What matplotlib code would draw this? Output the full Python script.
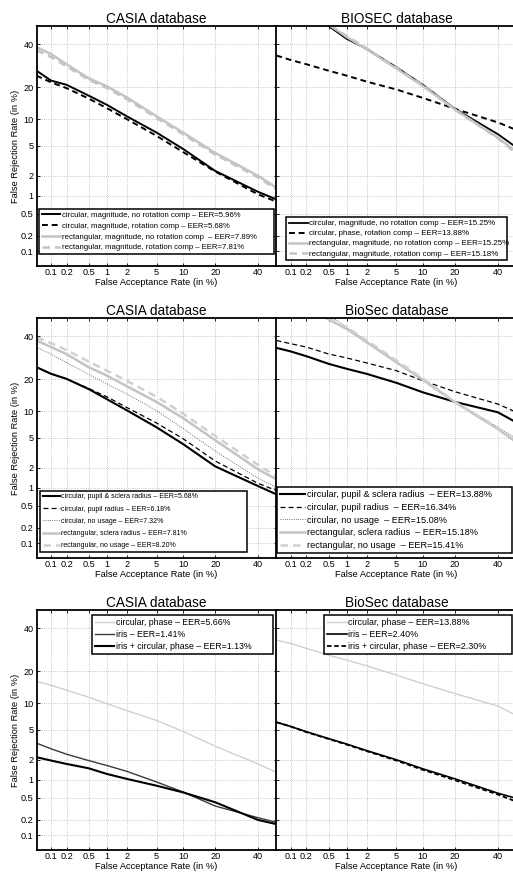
import math
import numpy as np
import matplotlib
matplotlib.use("Agg")
import matplotlib.pyplot as plt
from matplotlib.ticker import NullLocator

plt.rcParams['font.family'] = ['Liberation Sans', 'DejaVu Sans']

# FAR sample points (in %) used for most curves
far = [0.05, 0.1, 0.2, 0.5, 1, 2, 5, 10, 20, 40, 50]

# row 1 - CASIA, magnitude
casia_circ_norot = [27, 22.7, 21, 17, 14, 10.8, 7.2, 4.6, 2.35, 1.15, 0.87]
casia_circ_rot = [24.8, 22, 19.7, 16, 13, 10.1, 6.6, 4.2, 2.3, 1.05, 0.8]
casia_rect_norot = [38.6, 35, 30, 23.7, 20.4, 16.4, 10.8, 7.2, 4.1, 2.0, 1.33]
casia_rect_rot = [37, 33.5, 29, 23, 19.8, 15.8, 10.4, 6.9, 3.9, 1.9, 1.25]

# row 1 - BIOSEC
bio_far_circ_norot = [0.5, 1, 2, 5, 10, 20, 40, 50]
bio_circ_norot = [50, 43, 37.7, 28.6, 21, 12.8, 6.9, 4.8]
bio_circ_phase = [34.3, 32, 30, 27, 24.8, 22.3, 19.2, 16.2, 12.8, 9.3, 7.7]
bio_far_rect_norot = [0.55, 1, 2, 5, 10, 20, 40, 50]
bio_rect_norot = [50, 44, 37.5, 28, 20.5, 12.6, 6.3, 4.2]
bio_far_rect_rot = [0.55, 1, 2, 5, 10, 20, 40, 50]
bio_rect_rot = [50, 44.5, 38, 28.3, 20.8, 12.5, 6.2, 4.0]

# row 2 - CASIA, radius usage
casia_pupil_sclera = [25, 22.2, 20.2, 16.5, 13.3, 10.3, 6.7, 4.2, 2.1, 1.06, 0.78]
casia_pupil = [25, 22.2, 20.2, 16.7, 14, 11, 7.5, 4.9, 2.5, 1.17, 0.9]
casia_circ_none = [34.5, 31, 27, 22, 18.3, 14.9, 10.2, 6.5, 3.4, 1.4, 1.0]
casia_rect_sclera = [37.9, 34.5, 31, 25, 21.5, 17.5, 12.5, 8.5, 4.7, 1.9, 1.35]
casia_rect_none = [39.5, 36.5, 33, 27.5, 23.5, 19.5, 14, 9.5, 5.3, 2.2, 1.5]

# row 2 - BioSec, radius usage
bio_pupil_sclera = [34.1, 32.3, 30, 26.5, 24.3, 22.2, 18.7, 15.4, 12.5, 9.8, 7.6]
bio_pupil = [37.9, 36.2, 34.5, 31.1, 29.2, 26.9, 23.5, 19.5, 15.6, 11.9, 9.8]
bio_far_circ_none = [0.6, 1, 2, 5, 10, 20, 40, 50]
bio_circ_none = [50, 45, 37.5, 27.5, 20, 12.6, 6.7, 4.9]
bio_far_rect_sclera = [0.45, 1, 2, 5, 10, 20, 40, 50]
bio_rect_sclera = [50, 44, 37, 27.2, 19.8, 12.4, 6.4, 4.4]
bio_far_rect_none = [0.5, 1, 2, 5, 10, 20, 40, 50]
bio_rect_none = [50, 45, 38, 28, 20.3, 12.5, 6.6, 4.7]

# row 3 - fusion
casia_phase = [16.4, 15.1, 13.6, 11.6, 9.95, 8.4, 6.5, 4.8, 3.1, 1.74, 1.3]
casia_iris = [3.4, 2.85, 2.4, 1.95, 1.65, 1.35, 0.92, 0.63, 0.36, 0.22, 0.18]
casia_fused = [2.18, 1.95, 1.74, 1.5, 1.23, 1.03, 0.8, 0.62, 0.42, 0.2, 0.166]
bio_phase = [34, 32.3, 29.9, 26.8, 24.6, 22.2, 18.6, 15.6, 12.6, 9.4, 7.4]
bio_iris = [6.2, 5.5, 4.75, 3.9, 3.3, 2.7, 2.0, 1.47, 1.03, 0.6, 0.49]
bio_fused = [6.2, 5.5, 4.7, 3.85, 3.25, 2.65, 1.95, 1.42, 0.98, 0.57, 0.43]

ticks = [0.1, 0.2, 0.5, 1, 2, 5, 10, 20, 40]
tick_labels = ['0.1', '0.2', '0.5', '1', '2', '5', '10', '20', '40']

# probit (normal deviate) scale, values given in percent
A = [-3.969683028665376e+01, 2.209460984245205e+02, -2.759285104469687e+02,
     1.383577518672690e+02, -3.066479806614716e+01, 2.506628277459239e+00]
B = [-5.447609879822406e+01, 1.615858368580409e+02, -1.556989798598866e+02,
     6.680131188771972e+01, -1.328068155288572e+01]
C = [-7.784894002430293e-03, -3.223964580411365e-01, -2.400758277161838e+00,
     -2.549732539343734e+00, 4.374664141464968e+00, 2.938163982698783e+00]
D = [7.784695709041462e-03, 3.224671290700398e-01, 2.445134137142996e+00,
     3.754408661907416e+00]


def _ppf(p):
    p = min(max(p / 100.0, 1e-12), 1 - 1e-12)
    if p < 0.02425:
        q = math.sqrt(-2 * math.log(p))
        return (((((C[0]*q + C[1])*q + C[2])*q + C[3])*q + C[4])*q + C[5]) / \
               ((((D[0]*q + D[1])*q + D[2])*q + D[3])*q + 1)
    if p > 1 - 0.02425:
        q = math.sqrt(-2 * math.log(1 - p))
        return -(((((C[0]*q + C[1])*q + C[2])*q + C[3])*q + C[4])*q + C[5]) / \
               ((((D[0]*q + D[1])*q + D[2])*q + D[3])*q + 1)
    q = p - 0.5
    r = q * q
    return (((((A[0]*r + A[1])*r + A[2])*r + A[3])*r + A[4])*r + A[5])*q / \
           (((((B[0]*r + B[1])*r + B[2])*r + B[3])*r + B[4])*r + 1)


def _cdf(z):
    return 100.0 * 0.5 * (1 + math.erf(z / math.sqrt(2)))


probit = np.vectorize(_ppf, otypes=[float])
unprobit = np.vectorize(_cdf, otypes=[float])

fig = plt.figure(figsize=(5.13, 8.75), dpi=100)

W, H = 513.0, 875.0
ax_w = 240 / W
ax_h = 240 / H
lefts = [36.5 / W, 276.4 / W]
bottoms = [1 - 266 / H, 1 - 558 / H, 1 - 850 / H]

axes = []
for r in range(3):
    row = []
    for c in range(2):
        ax = fig.add_axes([lefts[c], bottoms[r], ax_w, ax_h])
        ax.set_xscale('function', functions=(probit, unprobit))
        ax.set_yscale('function', functions=(probit, unprobit))
        ax.set_xlim(0.05, 50)
        ax.set_ylim(0.05, 50)
        ax.set_xticks(ticks)
        ax.set_xticklabels(tick_labels)
        ax.set_yticks(ticks)
        ax.xaxis.set_minor_locator(NullLocator())
        ax.yaxis.set_minor_locator(NullLocator())
        if c == 0:
            ax.set_yticklabels(tick_labels)
            ax.set_ylabel('False Rejection Rate (in %)', fontsize=6.7, labelpad=1)
        else:
            ax.set_yticklabels([])
        ax.set_xlabel('False Acceptance Rate (in %)', fontsize=6.7, labelpad=0.5)
        ax.tick_params(direction='in', length=2.5, width=0.6, labelsize=6.6,
                       top=True, right=True, pad=2)
        ax.tick_params(axis='x', pad=1.5)
        ax.grid(True, linestyle=':', color='#b4b4b4', linewidth=0.6)
        for s in ax.spines.values():
            s.set_linewidth(1.3)
        row.append(ax)
    axes.append(row)

gray = '#c4c4c4'
lgray = '#d0d0d0'


def legend(ax, x0, ytop, w, h, fs, spacing, hlen):
    lg = ax.legend(loc='upper left', bbox_to_anchor=(x0, ytop - h, w, h),
                   mode='expand', borderaxespad=0,
                   fontsize=fs, labelspacing=spacing, handlelength=hlen,
                   handletextpad=0.2, borderpad=0.35, fancybox=False,
                   framealpha=1, edgecolor='black')
    lg.get_frame().set_linewidth(1.1)
    return lg


# row 1 left
ax = axes[0][0]
ax.plot(far, casia_circ_norot, color='black', lw=1.4,
        label='circular, magnitude, no rotation comp \u2013 EER=5.96%')
ax.plot(far, casia_circ_rot, color='black', lw=1.4, ls=(0, (3, 2)),
        label='circular, magnitude, rotation comp \u2013 EER=5.68%')
ax.plot(far, casia_rect_norot, color=gray, lw=1.8,
        label='rectangular, magnitude, no rotation comp  \u2013 EER=7.89%')
ax.plot(far, casia_rect_rot, color=gray, lw=1.8, ls=(0, (3, 2)),
        label='rectangular, magnitude, rotation comp \u2013 EER=7.81%')
ax.set_title('CASIA database', fontsize=9.8, pad=2)
legend(ax, 0.01, 0.2375, 0.98, 0.2, 5.6, 0.42, 2.4)

# row 1 right
ax = axes[0][1]
ax.plot(bio_far_circ_norot, bio_circ_norot, color='black', lw=1.3,
        label='circular, magnitude, no rotation comp \u2013 EER=15.25%')
ax.plot(far, bio_circ_phase, color='black', lw=1.4, ls=(0, (3, 2)),
        label='circular, phase, rotation comp \u2013 EER=13.88%')
ax.plot(bio_far_rect_norot, bio_rect_norot, color=gray, lw=1.8,
        label='rectangular, magnitude, no rotation comp \u2013 EER=15.25%')
ax.plot(bio_far_rect_rot, bio_rect_rot, color=gray, lw=1.8, ls=(0, (3, 2)),
        label='rectangular, magnitude, rotation comp \u2013 EER=15.18%')
ax.set_title('BIOSEC database', fontsize=9.8, pad=2)
legend(ax, 0.04, 0.204, 0.92, 0.19, 5.65, 0.33, 2.4)

# row 2 left
ax = axes[1][0]
ax.plot(far, casia_pupil_sclera, color='black', lw=1.5,
        label='circular, pupil & sclera radius \u2013 EER=5.68%')
ax.plot(far, casia_pupil, color='black', lw=0.9, ls=(0, (4, 2.5)),
        label='circular, pupil radius \u2013 EER=6.18%')
ax.plot(far, casia_circ_none, color='#444444', lw=0.6, ls=':',
        label='circular, no usage \u2013 EER=7.32%')
ax.plot(far, casia_rect_sclera, color=gray, lw=1.8,
        label='rectangular, sclera radius \u2013 EER=7.81%')
ax.plot(far, casia_rect_none, color=lgray, lw=1.8, ls=(0, (3, 2)),
        label='rectangular, no usage \u2013 EER=8.20%')
ax.set_title('CASIA database', fontsize=9.8, pad=2)
legend(ax, 0.015, 0.279, 0.8625, 0.26, 5.0, 0.75, 2.5)

# row 2 right
ax = axes[1][1]
ax.plot(far, bio_pupil_sclera, color='black', lw=1.5,
        label='circular, pupil & sclera radius  \u2013 EER=13.88%')
ax.plot(far, bio_pupil, color='black', lw=0.9, ls=(0, (4, 2.5)),
        label='circular, pupil radius  \u2013 EER=16.34%')
ax.plot(bio_far_circ_none, bio_circ_none, color='#444444', lw=0.6, ls=':',
        label='circular, no usage  \u2013 EER=15.08%')
ax.plot(bio_far_rect_sclera, bio_rect_sclera, color=gray, lw=1.8,
        label='rectangular, sclera radius  \u2013 EER=15.18%')
ax.plot(bio_far_rect_none, bio_rect_none, color=lgray, lw=1.8, ls=(0, (3, 2)),
        label='rectangular, no usage  \u2013 EER=15.41%')
ax.set_title('BioSec database', fontsize=9.8, pad=2)
legend(ax, 0.003, 0.296, 0.98, 0.29, 6.6, 0.4, 2.7)

# row 3 left
ax = axes[2][0]
ax.plot(far, casia_phase, color=lgray, lw=1.0,
        label='circular, phase \u2013 EER=5.66%')
ax.plot(far, casia_iris, color='#3a3a3a', lw=1.0,
        label='iris \u2013 EER=1.41%')
ax.plot(far, casia_fused, color='black', lw=1.5,
        label='iris + circular, phase \u2013 EER=1.13%')
ax.set_title('CASIA database', fontsize=9.8, pad=2)
legend(ax, 0.231, 0.979, 0.754, 0.16, 6.3, 0.33, 2.2)

# row 3 right
ax = axes[2][1]
ax.plot(far, bio_phase, color=lgray, lw=1.0,
        label='circular, phase \u2013 EER=13.88%')
ax.plot(far, bio_iris, color='black', lw=1.2,
        label='iris \u2013 EER=2.40%')
ax.plot(far, bio_fused, color='black', lw=1.3, ls=(0, (2.5, 1.5)),
        label='iris + circular, phase \u2013 EER=2.30%')
ax.set_title('BioSec database', fontsize=9.8, pad=2)
legend(ax, 0.198, 0.979, 0.783, 0.165, 6.4, 0.35, 2.2)

plt.savefig('out.png', dpi=100)
